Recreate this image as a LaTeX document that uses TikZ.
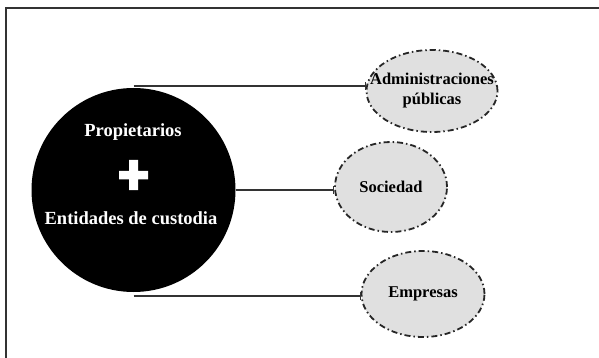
\documentclass[tikz,border=0pt]{standalone}
\usepackage{fontspec}
\setmainfont{Liberation Serif}
\usetikzlibrary{shapes.geometric,arrows.meta}
\definecolor{partyfill}{HTML}{E0E0E0}
\definecolor{linegray}{HTML}{333333}

\begin{document}
\begin{tikzpicture}[x=1pt,y=-1pt,
    party/.style={ellipse, draw=black!85, fill=partyfill, line width=1.8pt,
        dash pattern=on 6pt off 3pt on 1.5pt off 3pt, inner sep=0pt},
    partytext/.style={font=\fontsize{16.5}{20}\selectfont\bfseries, align=center, text=black},
    conn/.style={draw=linegray, line width=2pt, -{Bar[width=8pt,line width=1pt]}}]
                    \useasboundingbox (0,0) rectangle (599,358);
                    \draw[linegray, line width=1.5pt] (6,358) -- (6,8) -- (599,8);
                    \node[circle, fill=black, minimum size=204pt, inner sep=0pt] (prop) at (133.5,190) {};
                    \node[text=white, font=\fontsize{18.5}{22}\selectfont\bfseries] (proptop) at (133,132) {Propietarios};
                    \node[text=white, font=\fontsize{18.5}{22}\selectfont\bfseries] (propbot) at (131,218) {Entidades de custodia};
                    \fill[white] (129,160) rectangle (138,190) (119,171) rectangle (148,179.5);
                    \node[party, minimum width=131pt, minimum height=82pt, label={[partytext]center:Administraciones\\públicas}] (admin) at (432,91) {};
                    \node[party, minimum width=112pt, minimum height=90pt, label={[partytext]center:Sociedad}] (soc) at (391,187) {};
                    \node[party, minimum width=123pt, minimum height=86pt, label={[partytext]center:Empresas}] (emp) at (423,294) {};
                    \draw[conn] ([yshift=2pt]prop.north) -- ([yshift=2pt]prop.north -| admin.west);
                    \draw[conn] (prop.east) -- (prop.east -| soc.west);
                    \draw[conn] ([yshift=-4pt]prop.south) -- ([yshift=-4pt]prop.south -| emp.west);
                \end{tikzpicture}
\end{document}
